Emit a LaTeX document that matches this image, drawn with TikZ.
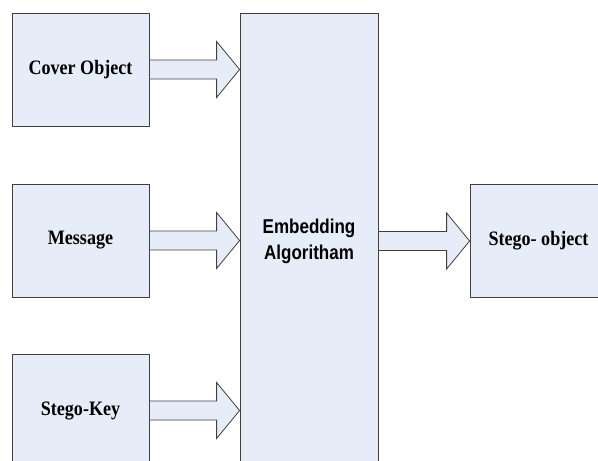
\documentclass[tikz,border=0pt]{standalone}
\usepackage{fontspec}
\usepackage{tikz}
\usetikzlibrary{calc,
                positioning}
\newfontfamily\serifbox[FakeStretch=0.88]{Liberation Serif}
\newfontfamily\sansbox[FakeStretch=0.85]{Liberation Sans}
\definecolor{boxfill}{RGB}{231,237,248}
\definecolor{boxline}{RGB}{64,64,64}
\tikzset{blockbox/.style={draw=boxline,fill=boxfill,line width=0.8pt,inner sep=0pt,
                          minimum width=137pt,minimum height=113pt,
                          font=\serifbox\bfseries\fontsize{20.5}{24}\selectfont},
         fatarrow/.style={draw=boxline,fill=boxfill,line width=0.8pt,line join=miter}}
\newcommand{\fatarrowto}[2]{%
  \draw[fatarrow] let \p1=(#1.east), \p2=(#2.west) in
    (\x1,\y1+9.5pt) -- (\x2-23pt,\y1+9.5pt) -- (\x2-23pt,\y1+28pt) -- (\x2,\y1)
    -- (\x2-23pt,\y1-28pt) -- (\x2-23pt,\y1-9.5pt) -- (\x1,\y1-9.5pt) -- cycle;}

\begin{document}
\begin{tikzpicture}[x=1pt,y=-1pt]
  \useasboundingbox (0,0) rectangle (598,461);
  \clip (0,0) rectangle (598,461);
  \node[blockbox] (cover) at (80.5,69.5) {Cover Object};
  \node[blockbox] (message) at (80.5,240.5) {Message};
  \node[blockbox] (key) at (80.5,410.5) {Stego-Key};
  \node[blockbox,minimum width=138pt,minimum height=456pt,align=center,
        font=\sansbox\bfseries\fontsize{20}{26}\selectfont] (embed) at (309,241)
        {Embedding\\Algoritham};
  \node[blockbox] (stego) at (538.5,240.5) {Stego- object};
  \foreach \src in {cover,message,key}{%
    \fatarrowto{\src}{embed}
  }
  \fatarrowto{embed}{stego}
\end{tikzpicture}
\end{document}
